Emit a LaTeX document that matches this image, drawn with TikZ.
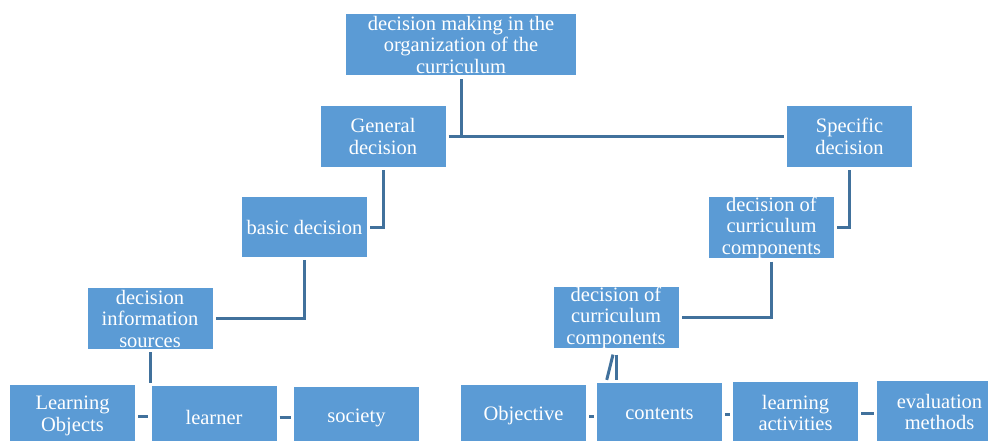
\documentclass[tikz,border=0pt]{standalone}
\usepackage{fontspec}
\setmainfont{Liberation Serif}
\definecolor{boxblue}{HTML}{5B9BD5}
\definecolor{lineblue}{HTML}{41719C}
\tikzset{
  box/.style={fill=boxblue, text=white, inner sep=0pt, align=center,
    minimum width=125pt, minimum height=61pt,
    font=\fontsize{20.5}{21.5}\selectfont},
  link/.style={draw=lineblue, line width=3pt, shorten <=3pt, shorten >=3pt}
}
\begin{document}
\begin{tikzpicture}[x=1pt,y=-1pt]
    \clip (0,0) rectangle (988,441);
    \node[box, minimum width=230pt] (top) at (461,44.5) {decision making in the\\organization of the\\curriculum};
    \node[box] (gen) at (383,136.5) {General\\decision};
    \node[box] (spec) at (849.5,136.5) {Specific\\decision};
    \node[box, minimum height=60pt] (basic) at (304.5,227) {basic decision};
    \node[box] (info) at (150,318.5) {decision\\information\\sources};
    \node[box] (compa) at (771.5,227.5) {decision of\\curriculum\\components};
    \node[box, minimum height=59pt] (compb) at (616,317.5) {decision of\\curriculum\\components};
    % bottom rows, cut by the lower edge
    \foreach \n/\x/\y/\t in {lo/72.5/416/{Learning\\Objects}, learner/214/417/learner,
        society/356.5/418/society, obj/523.5/416/Objective, contents/659.5/414/contents,
        act/795.5/413/{learning\\activities}, eval/939.5/412/{evaluation\\methods}}{
       \node[box, minimum height=62pt] (\n) at (\x,\y) {\t};
    }
    \draw[link, shorten <=4pt, shorten >=0pt] (top.south) -- (top.south |- gen.east);
    \draw[link] (gen.east) -- (spec.west);
    \draw[link] (gen.south) |- (basic.east);
    \draw[link] (basic.south) |- (info.east);
    \draw[link] (info.south) -- (info.south |- learner.north);
    \draw[link] (spec.south) |- (compa.east);
    \draw[link] (compa.south) |- (compb.east);
    \coordinate (tip) at ([yshift=-6pt]compb.south);
    \draw[link, shorten <=0pt] (tip) -- (tip |- contents.north);
    \draw[link, shorten <=0pt] ([xshift=-3pt]tip) -- ([xshift=-10pt]tip |- contents.north);
    \foreach \a/\b in {lo/learner, learner/society, obj/contents, contents/act, act/eval}{
       \draw[link] (\a.east) -- (\a.east -| \b.west);
    }
\end{tikzpicture}
\end{document}
